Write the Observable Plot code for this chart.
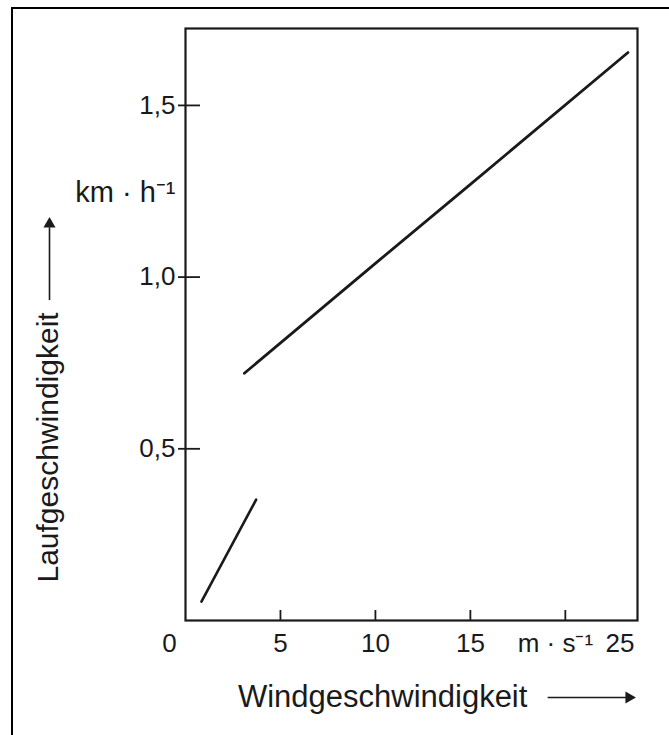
<!DOCTYPE html>
<html>
<head>
<meta charset="utf-8">
<script src="https://cdn.jsdelivr.net/npm/d3@7"></script>
<script src="https://cdn.jsdelivr.net/npm/@observablehq/plot@0.6"></script>
<style>
  html, body { margin: 0; padding: 0; background: #fff; }
  #wrap { position: relative; width: 669px; height: 735px; overflow: hidden; }
  #border { position: absolute; left: 11px; top: 7px; width: 700px; height: 760px;
            border-left: 2px solid #000; border-top: 2px solid #000; pointer-events: none; }
</style>
</head>
<body>
<div id="wrap"><div id="border"></div></div>
<script>
// ---- data ----
const xDomain = [0, 23.8];
const yDomain = [0, 1.724];
const xTickValues = [5, 10, 15, 20];
const xTickLabels = ["5", "10", "15"];
const yTickValues = [0.5, 1.0, 1.5];
const yTickLabels = ["0,5", "1,0", "1,5"];
// Upper line (Laufgeschwindigkeit vs Windgeschwindigkeit)
const upperX = [3.1, 10, 15, 23.3];
const upperY = [0.72, 1.04, 1.27, 1.654];
// Lower short line
const lowerX = [0.84, 3.72];
const lowerY = [0.055, 0.352];
const xTitle = "Windgeschwindigkeit";
const yTitle = "Laufgeschwindigkeit";
const xUnit = "m · s⁻¹";
const yUnit = "km · h⁻¹";
const originLabel = "0";
const lastXLabel = "25";

const W = 669, H = 735;
const mL = 185, mR = 32, mT = 28, mB = 115;
const innerW = W - mL - mR, innerH = H - mT - mB;
const ink = "#1a1a1a";
const font = "Liberation Sans, Arial, Helvetica, sans-serif";

const upper = upperX.map((x, i) => ({x, y: upperY[i]}));
const lower = lowerX.map((x, i) => ({x, y: lowerY[i]}));
const xLab = xTickLabels.map((t, i) => ({x: xTickValues[i], t}));
const yLab = yTickLabels.map((t, i) => ({y: yTickValues[i], t}));

const chart = Plot.plot({
  width: W, height: H,
  marginLeft: mL, marginRight: mR, marginTop: mT, marginBottom: mB,
  style: {fontFamily: font, background: "transparent", overflow: "visible"},
  x: {domain: xDomain, axis: null},
  y: {domain: yDomain, axis: null},
  marks: [
    Plot.frame({stroke: ink, strokeWidth: 2.2}),
    // ticks
    Plot.tickX(xTickValues, {x: d => d, stroke: ink, strokeWidth: 1.8, insetTop: innerH - 10}),
    Plot.tickY(yTickValues, {y: d => d, stroke: ink, strokeWidth: 1.8, insetLeft: -7, insetRight: innerW - 15}),
    // tick labels
    Plot.text(xLab, {x: "x", y: 0, text: "t", dy: 23, fontSize: 26, fill: ink, lineAnchor: "middle"}),
    Plot.text([originLabel], {x: 0, y: 0, text: d => d, dx: -16, dy: 23, fontSize: 26, fill: ink, lineAnchor: "middle"}),
    Plot.text([xUnit], {x: xTickValues[3], y: 0, text: d => d, dx: -10, dy: 23, fontSize: 26, fill: ink, lineAnchor: "middle"}),
    Plot.text([lastXLabel], {frameAnchor: "bottom-right", text: d => d, dx: -3, dy: 23, fontSize: 26, fill: ink, lineAnchor: "middle",
      fontFamily: "Liberation Sans Narrow, Arial Narrow, " + font}),
    Plot.text(yLab, {x: 0, y: "y", text: "t", dx: -10, textAnchor: "end", fontSize: 26, fill: ink, lineAnchor: "middle"}),
    Plot.text([yUnit], {x: 0, y: 1.247, text: d => d, dx: -10, textAnchor: "end", fontSize: 29, fill: ink, lineAnchor: "middle"}),
    // data lines
    Plot.line(upper, {x: "x", y: "y", stroke: ink, strokeWidth: 2.8}),
    Plot.line(lower, {x: "x", y: "y", stroke: ink, strokeWidth: 2.6}),
    // axis titles
    Plot.text([xTitle], {x: 10.38, y: 0, text: d => d, dy: 77, fontSize: 31, fill: ink, lineAnchor: "middle"}),
    Plot.link([0], {x1: 19.07, x2: 23.2, y1: 0, y2: 0, dy: 77, stroke: ink, strokeWidth: 1.6}),
    Plot.dot([0], {x: 23.35, y: 0, dy: 77, symbol: "triangle", rotate: 90, r: 4.5, fill: ink, stroke: null}),
    Plot.text([yTitle], {x: 0, y: 0.504, text: d => d, dx: -137, rotate: -90, fontSize: 30, fill: ink, lineAnchor: "middle"}),
    Plot.link([0], {x1: 0, x2: 0, y1: 0.933, y2: 1.145, dx: -136, stroke: ink, strokeWidth: 1.6}),
    Plot.dot([0], {x: 0, y: 1.155, dx: -136, symbol: "triangle", r: 4.5, fill: ink, stroke: null})
  ]
});
document.getElementById("wrap").appendChild(chart);
chart.style.position = "absolute";
chart.style.left = "0";
chart.style.top = "0";
</script>
</body>
</html>
